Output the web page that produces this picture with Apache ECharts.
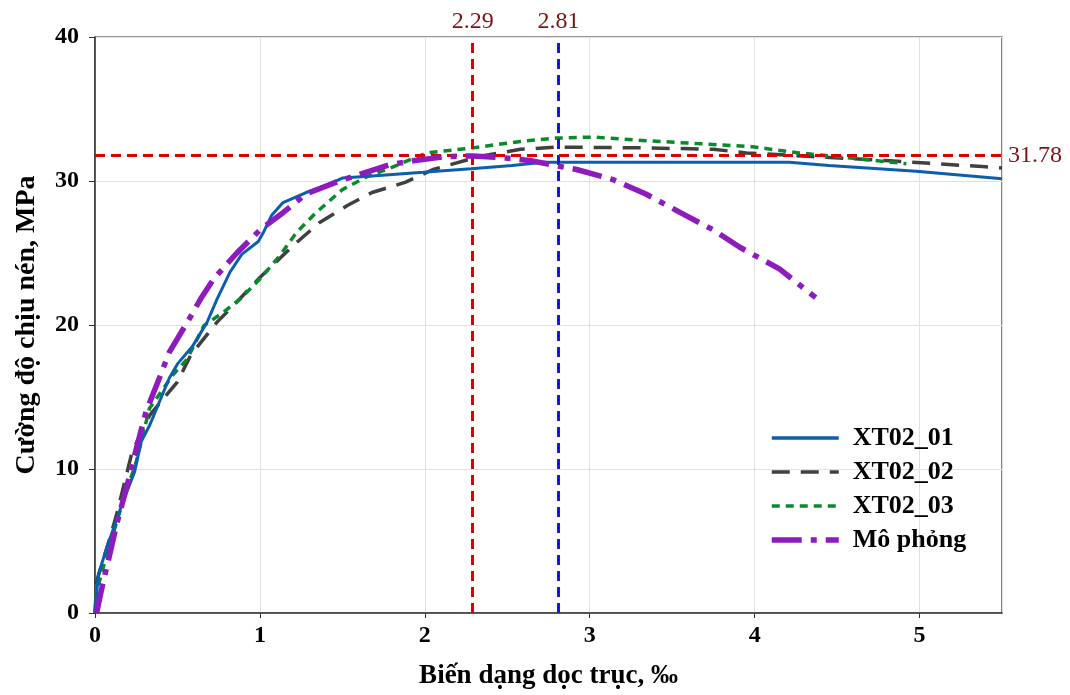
<!DOCTYPE html>
<html><head><meta charset="utf-8">
<script src="https://cdn.jsdelivr.net/npm/echarts@6/dist/echarts.min.js"></script>
<style>html,body{margin:0;padding:0;background:#fff}#c{width:1070px;height:695px}</style>
</head><body><div id="c"></div>
<script>
const seriesNames = ['XT02_01','XT02_02','XT02_03','Mô phỏng'];
const xt01 = [[0,0],[0.02,2.65],[0.07,4.5],[0.17,7.75],[0.24,9.8],[0.28,11.9],[0.33,13.0],[0.45,16.3],[0.50,17.3],[0.59,18.5],[0.68,20.2],[0.74,21.8],[0.82,23.7],[0.89,24.9],[0.99,25.8],[1.02,26.4],[1.07,27.6],[1.14,28.5],[1.28,29.2],[1.38,29.6],[1.50,30.2],[1.68,30.35],[1.99,30.6],[2.28,30.85],[2.53,31.07],[2.72,31.3],[3.5,31.3],[4.21,31.3],[4.45,31.07],[4.98,30.68],[5.5,30.15]];
const xt02 = [[0,0],[0.01,2.2],[0.09,5.2],[0.13,6.8],[0.22,10.95],[0.24,11.55],[0.33,13.7],[0.43,15.1],[0.50,16.05],[0.58,17.9],[0.74,20.2],[0.86,21.6],[1.0,23.3],[1.10,24.4],[1.22,25.7],[1.36,27.1],[1.53,28.3],[1.68,29.2],[1.88,29.9],[2.05,30.8],[2.33,31.7],[2.58,32.2],[2.80,32.35],[3.34,32.3],[3.75,32.2],[3.95,31.95],[4.35,31.7],[4.82,31.4],[5.38,31.0],[5.5,30.9]];
const xt03 = [[0,0],[0.01,1.5],[0.07,4.0],[0.17,7.75],[0.25,10.5],[0.33,14.2],[0.47,16.5],[0.56,17.65],[0.66,19.95],[0.78,20.9],[0.88,21.8],[1.0,23.2],[1.12,24.8],[1.22,26.4],[1.34,27.8],[1.50,29.4],[1.65,30.3],[1.79,30.9],[2.01,31.95],[2.29,32.3],[2.58,32.75],[2.80,32.98],[3.02,33.05],[3.34,32.8],[3.65,32.6],[3.97,32.4],[4.27,31.95],[4.58,31.6],[4.92,31.2]];
const sim = [[0.01,0],[0.01,0.1],[0.05,2.2],[0.08,3.6],[0.13,6.1],[0.19,8.65],[0.25,11.4],[0.31,14.0],[0.39,16.3],[0.45,18.1],[0.56,20.2],[0.64,21.8],[0.72,23.2],[0.86,25.0],[1.0,26.6],[1.14,27.8],[1.28,29.1],[1.48,30.0],[1.79,31.15],[1.93,31.4],[2.13,31.7],[2.29,31.74],[2.49,31.6],[2.65,31.4],[2.80,31.05],[2.92,30.8],[3.14,30.1],[3.34,29.1],[3.55,27.8],[3.75,26.6],[3.91,25.4],[4.15,23.9],[4.37,21.9]];
const refX = [2.29, 2.81];
const refY = [31.78];
const xTitle = 'Biến dạng dọc trục, ‰';
const yTitle = 'Cường độ chịu nén, MPa';

const FONT = '"Liberation Serif","Times New Roman",serif';
const styles = [
  {color:'#0b5fae', width:3.5, type:'solid'},
  {color:'#404040', width:3.5, type:[18,11]},
  {color:'#0a8a2a', width:3.5, type:[8,6]},
  {color:'#8e1bbd', width:5.5, type:[30,9,6,9]}
];
const chart = echarts.init(document.getElementById('c'), null, {renderer:'canvas'});
const refLabel = {show:true, position:'end', fontFamily:FONT, fontSize:24, color:'#7a1414', distance:3};
const seriesData = [xt01, xt02, xt03, sim];
const zs = [4,3,3,5];
const lineSeries = seriesNames.map((n,i)=>({
  name:n, type:'line', data:seriesData[i], symbol:'none', z:zs[i],
  lineStyle:{color:styles[i].color, width:i===0?3:styles[i].width, type:styles[i].type},
  itemStyle:{color:styles[i].color}
}));
chart.setOption({
  animation:false,
  backgroundColor:'#fff',
  grid:{left:95,right:68,top:37,bottom:80,show:true,borderColor:'#333',borderWidth:1.2,backgroundColor:'transparent'},
  legend:{
    orient:'vertical', left:769, top:425, padding:0, itemWidth:67, itemHeight:14, itemGap:8,
    data:seriesNames.map((n,i)=>({name:n, lineStyle:{color:styles[i].color, width:styles[i].width, type:styles[i].type}})),
    itemStyle:{opacity:0},
    textStyle:{fontFamily:FONT, fontWeight:'bold', fontSize:26, color:'#000', lineHeight:26, padding:[0,0,0,9]}
  },
  xAxis:{
    type:'value', min:0, max:5.5, interval:1,
    name:xTitle, nameLocation:'middle', nameGap:50,
    nameTextStyle:{fontFamily:FONT, fontWeight:'bold', fontSize:27, color:'#000'},
    axisLine:{show:true, onZero:false, lineStyle:{color:'#333',width:1.5}},
    axisTick:{show:true, length:5, lineStyle:{color:'#333'}},
    axisLabel:{fontFamily:FONT, fontWeight:'bold', fontSize:24, color:'#000', margin:11, showMaxLabel:false},
    splitLine:{show:true, lineStyle:{color:'#e0e0e0',width:1}}
  },
  yAxis:{
    type:'value', min:0, max:40, interval:10,
    name:yTitle, nameLocation:'middle', nameGap:54,
    nameTextStyle:{fontFamily:FONT, fontWeight:'bold', fontSize:28, color:'#000'},
    axisLine:{show:true, onZero:false, lineStyle:{color:'#333',width:1.5}},
    axisTick:{show:true, length:6, lineStyle:{color:'#333'}},
    axisLabel:{fontFamily:FONT, fontWeight:'bold', fontSize:24, color:'#000', margin:16},
    splitLine:{show:true, lineStyle:{color:'#e0e0e0',width:1}}
  },
  series: lineSeries.concat([
    {name:'ref', type:'line', data:[], symbol:'none', z:6, silent:true,
     markLine:{symbol:['none','none'], silent:true, animation:false,
       data:[
         {xAxis:refX[0], lineStyle:{color:'#dd0000',width:3,type:[10,6]}, label:refLabel},
         {xAxis:refX[1], lineStyle:{color:'#1515ee',width:3,type:[10,6]}, label:refLabel},
         {yAxis:refY[0], lineStyle:{color:'#dd0000',width:3,type:[10,6]}, label:Object.assign({}, refLabel, {distance:6})}
       ]}}
  ])
});
</script></body></html>
